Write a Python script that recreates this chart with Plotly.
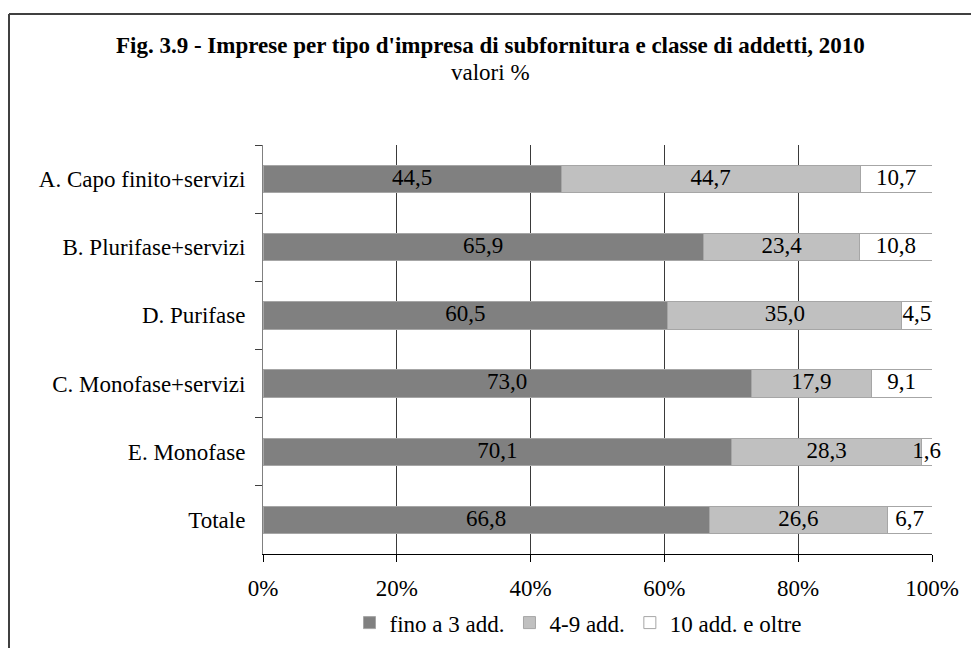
import plotly.graph_objects as go

categories = ["A. Capo finito+servizi", "B. Plurifase+servizi", "D. Purifase",
              "C. Monofase+servizi", "E. Monofase", "Totale"]
fino_3 = [44.5, 65.9, 60.5, 73.0, 70.1, 66.8]
da_4_9 = [44.7, 23.4, 35.0, 17.9, 28.3, 26.6]
oltre_10 = [10.7, 10.8, 4.5, 9.1, 1.6, 6.7]
series_names = ["fino a 3 add.", "4-9 add.", "10 add. e oltre"]
x_ticks = [0, 20, 40, 60, 80, 100]

FONT = "Liberation Serif, Times New Roman, serif"
FS = 23
colors = ["#808080", "#c0c0c0", "#ffffff"]
series = [fino_3, da_4_9, oltre_10]


def fmt(v):
    return f"{v:.1f}".replace(".", ",")


fig = go.Figure()
for name, vals, col in zip(series_names, series, colors):
    fig.add_trace(go.Bar(
        y=categories, x=vals, name=name, orientation="h",
        marker=dict(color=col, line=dict(color="#a6a6a6", width=1)),
        hoverinfo="x+y"))

# labels centred on each segment (bars are normalised to 100%)
totals = [sum(t) for t in zip(*series)]
start = [0.0] * len(categories)
for vals in series:
    mids = [(s + v / 2) / t * 100 for s, v, t in zip(start, vals, totals)]
    fig.add_trace(go.Scatter(
        x=mids, y=categories, mode="text", text=[fmt(v) for v in vals],
        textfont=dict(family=FONT, size=FS, color="#000"),
        showlegend=False, hoverinfo="skip", cliponaxis=False))
    start = [s + v for s, v in zip(start, vals)]

# page body has an 8px margin: reference pixel -> figure pixel
OFF = 8
W, H = 979, 648
L, R = 263 - OFF, W - (932 - OFF)
T, B = 145 - OFF, H - (562 - OFF)
pw, ph = W - L - R, H - T - B


def px_x(p):
    return (p - OFF - L) / pw


def px_y(p):
    return (H - B - (p - OFF)) / ph


fig.update_layout(
    width=W, height=H, barmode="stack", barnorm="percent", bargap=0.6,
    plot_bgcolor="white", paper_bgcolor="white",
    margin=dict(l=L, r=R, t=T, b=B),
    font=dict(family=FONT, size=FS, color="#000"),
    xaxis=dict(range=[0, 100], tickvals=x_ticks,
               ticktext=[f"{v}%" for v in x_ticks],
               showgrid=True, gridcolor="#3a3a3a", gridwidth=1,
               showline=True, linecolor="#000", linewidth=1,
               ticks="outside", ticklen=7, tickcolor="#000",
               zeroline=False, tickfont=dict(size=FS), ticklabelstandoff=6),
    yaxis=dict(autorange="reversed", showline=True, linecolor="#808080",
               linewidth=1, ticks="outside", ticklen=7, tickcolor="#404040",
               tickson="boundaries", showgrid=False, ticklabelstandoff=12,
               tickfont=dict(size=FS)),
    legend=dict(orientation="h", x=px_x(578), xanchor="center", y=px_y(632),
                yanchor="middle", font=dict(size=FS), traceorder="normal",
                itemwidth=30),
    shapes=[dict(type="line", xref="paper", yref="paper",
                 x0=px_x(OFF + 1), x1=px_x(995), y0=px_y(11.5), y1=px_y(11.5),
                 line=dict(color="#404040", width=2)),
            dict(type="line", xref="paper", yref="paper",
                 x0=px_x(OFF + 1), x1=px_x(OFF + 1), y0=px_y(11.5), y1=px_y(670),
                 line=dict(color="#404040", width=2))],
    annotations=[
        dict(text="<b>Fig. 3.9 - Imprese per tipo d'impresa di subfornitura e classe di addetti, 2010</b>",
             xref="paper", yref="paper", x=px_x(490), y=px_y(44),
             showarrow=False, font=dict(size=FS), xanchor="center", yanchor="middle"),
        dict(text="valori %", xref="paper", yref="paper", x=px_x(490), y=px_y(71),
             showarrow=False, font=dict(size=FS), xanchor="center", yanchor="middle"),
    ],
)

fig.write_html("out.html")
